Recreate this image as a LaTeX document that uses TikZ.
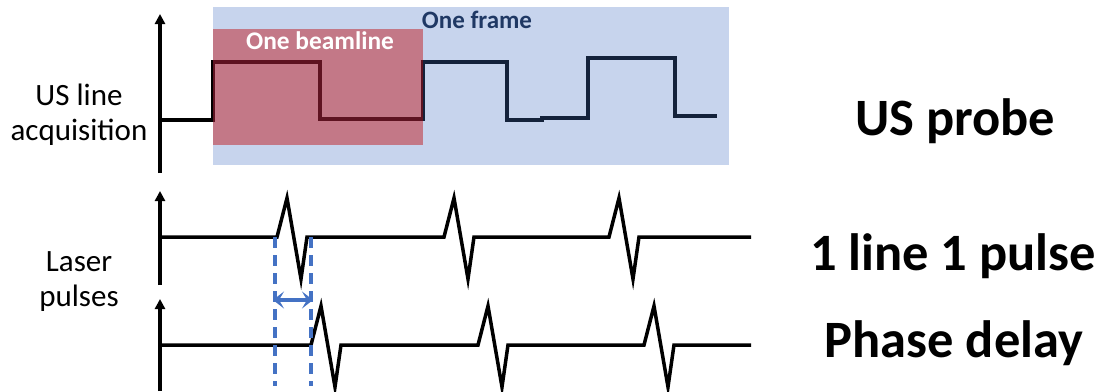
\documentclass[tikz,border=0pt]{standalone}
\usepackage{fontspec}
\setmainfont{Carlito}
\usetikzlibrary{arrows.meta}
\definecolor{frameblue}{HTML}{4472C4}
\definecolor{beamred}{HTML}{C00000}
\definecolor{navytext}{HTML}{1F3864}
\tikzset{
  sig/.style={line width=3.5pt, line join=miter, black},
  axis/.style={line width=3.5pt, -{Triangle[length=10pt,width=10pt]}},
  guide/.style={line width=3.5pt, frameblue, dash pattern=on 11pt off 7pt},
  lbl/.style={font=\fontsize{31}{35}\selectfont, align=center, anchor=base, inner sep=0pt},
  big/.style={font=\fontsize{52.5}{60}\selectfont\bfseries, anchor=base, inner sep=0pt},
}
\begin{document}
\begin{tikzpicture}[x=1pt,y=-1pt]
\useasboundingbox (0,0) rectangle (1102,391);
% axes
\draw[axis] (160,173) -- (160,14);
\draw[axis] (160,285) -- (160,191);
\draw[axis] (160,391) -- (160,299);
% US line acquisition signal
\draw[sig] (160,120) -- (213,120) -- (213,62) -- (320,62) -- (320,119) -- (423,119)
  -- (423,62) -- (507,62) -- (507,120) -- (542,120) -- (542,118) -- (588,118)
  -- (588,58) -- (675,58) -- (675,116) -- (717,116);
% overlays
\fill[frameblue, fill opacity=0.3] (213,7) rectangle (729,165);
\fill[beamred, fill opacity=0.43] (213,29) rectangle (423,145);
\node[font=\fontsize{25}{28}\selectfont\bfseries, text=navytext, anchor=base, inner sep=0pt] (frame) at (477,28) {One frame};
\node[font=\fontsize{25.4}{28}\selectfont\bfseries, text=white, anchor=base, inner sep=0pt] (beam) at (320,49) {One beamline};
% laser pulses, 1 line 1 pulse
\draw[sig] (160,237) foreach \s in {277,444,609}{ -- (\s,237) -- ++(10,-39) -- ++(14,81) -- ++(6,-42) -- ++(4,0)} -- (751,237);
% laser pulses, phase delay
\draw[sig] (160,345) foreach \s in {311,478,644}{ -- (\s,345) -- ++(10,-39) -- ++(14,81) -- ++(6,-42) -- ++(4,0)} -- (751,345);
% guides
\coordinate (g1t) at (275,237);
\coordinate (g1b) at (275,386);
\coordinate (g2t) at (311,237);
\coordinate (g2b) at (311,386);
\draw[guide] (g1t) -- (g1b);
\draw[guide] (g2t) -- (g2b);
\coordinate (d1) at (273,300);
\coordinate (d2) at (313,300);
\draw[line width=3.5pt, frameblue, {Stealth[length=11pt,width=17pt,inset=5pt]}-{Stealth[length=11pt,width=17pt,inset=5pt]}] (d1) -- (d2);
% left labels
\node[lbl] (us1) at (79,105) {US line};
\node[lbl] (us2) at (79,140) {acquisition};
\node[lbl] (la1) at (79,271) {Laser};
\node[lbl] (la2) at (79,306) {pulses};
% right labels
\node[big] (probe) at (955,135) {US probe};
\node[big] (oneline) at (953,270) {1 line 1 pulse};
\node[big] (phase) at (954,357) {Phase delay};
\end{tikzpicture}
\end{document}
